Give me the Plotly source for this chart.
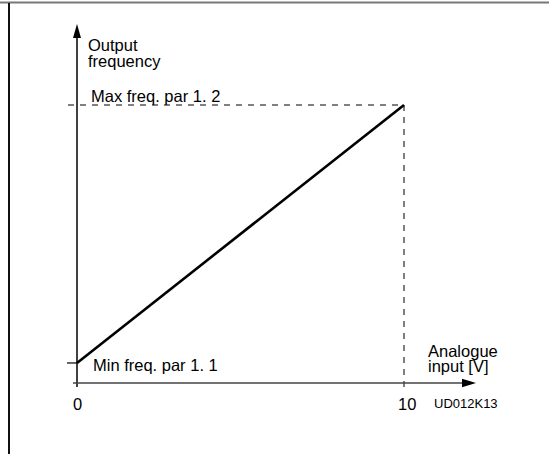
import plotly.graph_objects as go

# Analogue input scaling: input voltage vs output frequency
input_volts = [0, 10]
freq_hz = [3.6, 50.0]          # min freq (par 1.1) .. max freq (par 1.2)
tick_labels = ["0", "10"]
label_min = "Min freq. par 1. 1"
label_max = "Max freq. par 1. 2"

W, H = 549, 454
FONT = "Arial, Liberation Sans, sans-serif"
FS = 16.5

# pixel anchors of the coordinate frame
X0_PX, X10_PX = 77, 404          # x = 0 V and x = 10 V
Y0_PX, YMAX_PX = 383, 105        # y = 0 and y = max freq
sx = (X10_PX - X0_PX) / 10.0
sy = (Y0_PX - YMAX_PX) / freq_hz[1]
x_range = [-X0_PX / sx, (W - X0_PX) / sx]
y_range = [-(H - Y0_PX) / sy, Y0_PX / sy]


def dx(px):
    return px / sx


def dy(px):
    return px / sy


def paper(px, py):
    return px / W, 1 - py / H


fig = go.Figure()

# dashed guides to the max frequency point
fig.add_trace(go.Scatter(
    x=[dx(68 - X0_PX), input_volts[1], input_volts[1]],
    y=[freq_hz[1], freq_hz[1], -dy(5)],
    mode="lines", line=dict(color="black", width=1, dash="6px,6px"),
    hoverinfo="skip", showlegend=False))

# axes
fig.add_trace(go.Scatter(
    x=[0, 0], y=[-dy(4), dy(Y0_PX - 36)],
    mode="lines", line=dict(color="black", width=1.5),
    hoverinfo="skip", showlegend=False))
fig.add_trace(go.Scatter(
    x=[-dx(4), dx(462 - X0_PX)], y=[0, 0],
    mode="lines", line=dict(color="#444", width=1.5),
    hoverinfo="skip", showlegend=False))

# min frequency tick
fig.add_trace(go.Scatter(
    x=[-dx(10), 0], y=[freq_hz[0], freq_hz[0]],
    mode="lines", line=dict(color="black", width=1.2),
    hoverinfo="skip", showlegend=False))

# scaling line
fig.add_trace(go.Scatter(
    x=input_volts, y=freq_hz,
    mode="lines", line=dict(color="black", width=2.6),
    hoverinfo="skip", showlegend=False))

shapes = [
    # arrow heads (pixel offsets from the tips)
    dict(type="path", xref="x", yref="y", xsizemode="pixel", ysizemode="pixel",
         xanchor=0, yanchor=dy(Y0_PX - 24),
         path="M0,0 L-4,-14 L4,-14 Z", fillcolor="black", line=dict(width=0)),
    dict(type="path", xref="x", yref="y", xsizemode="pixel", ysizemode="pixel",
         xanchor=dx(476 - X0_PX), yanchor=0,
         path="M0,0 L-14,-4.2 L-14,4.2 Z", fillcolor="black", line=dict(width=0)),
    # page frame
    dict(type="line", xref="paper", yref="paper", x0=0, x1=1,
         y0=1 - 2.5 / H, y1=1 - 2.5 / H, line=dict(color="#777", width=2)),
    dict(type="line", xref="paper", yref="paper", x0=9 / W, x1=9 / W,
         y0=0, y1=1 - 3 / H, line=dict(color="#111", width=2)),
]


def text(s, px, baseline, size=FS, anchor="left"):
    x, y = paper(px, baseline - 0.35 * size)
    return dict(text=s, x=x, y=y, xref="paper", yref="paper",
                xanchor=anchor, yanchor="middle", showarrow=False,
                font=dict(family=FONT, size=size, color="black"), borderpad=0)


annotations = [
    text("Output", 87, 51),
    text("frequency", 87, 66.5),
    text(label_max, 90, 101.5),
    text(label_min, 92, 370.5),
    text("Analogue", 427, 356.5),
    text("input [V]", 427, 371.5),
    text(tick_labels[0], X0_PX, 410, anchor="center"),
    text(tick_labels[1], X10_PX + 3, 410, anchor="center"),
    text("UD012K13", 433, 408.5, size=13),
]

fig.update_layout(
    width=W, height=H, margin=dict(l=0, r=0, t=0, b=0),
    paper_bgcolor="white", plot_bgcolor="white",
    xaxis=dict(range=x_range, visible=False, fixedrange=True),
    yaxis=dict(range=y_range, visible=False, fixedrange=True),
    shapes=shapes, annotations=annotations, showlegend=False,
)

fig.write_html("out.html")
